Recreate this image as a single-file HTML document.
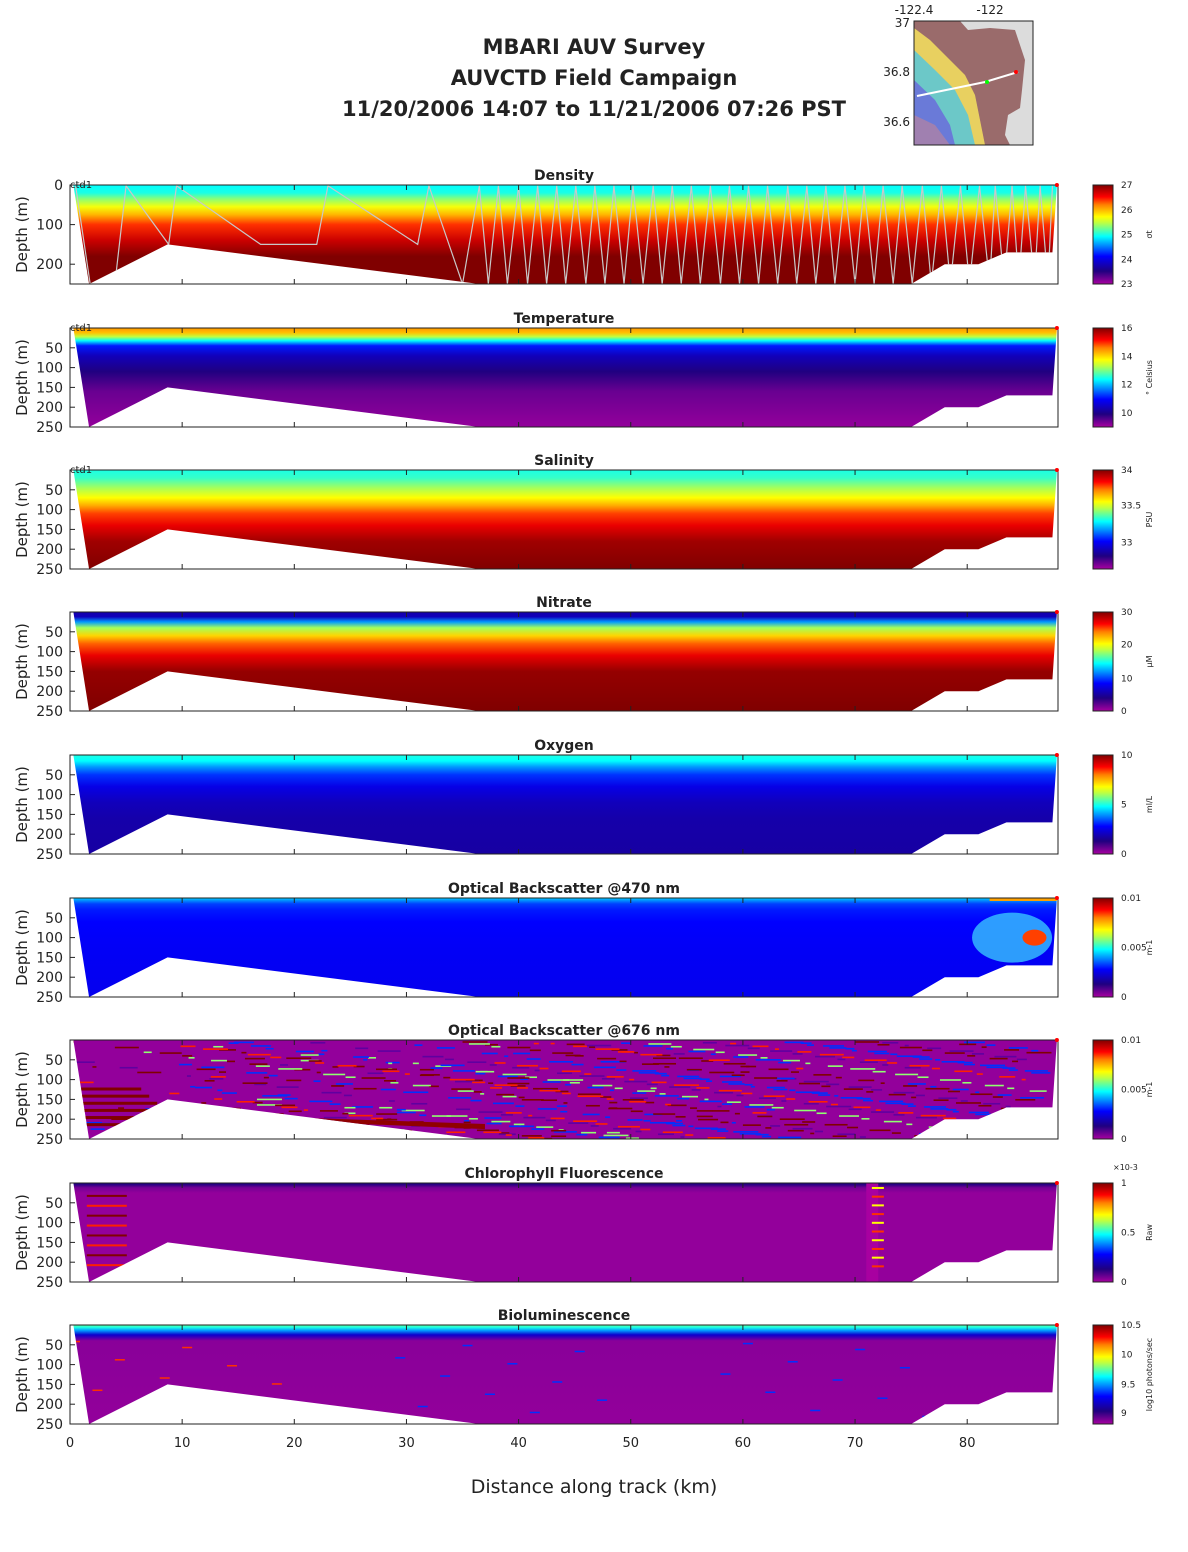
<!DOCTYPE html>
<html><head><meta charset="utf-8">
<style>
body{margin:0;background:#fff;font-family:"DejaVu Sans","Liberation Sans",sans-serif;}
svg text{font-family:"DejaVu Sans","Liberation Sans",sans-serif;fill:#222;}
</style></head>
<body>
<svg id="fig" width="1188" height="1548" viewBox="0 0 1188 1548" xmlns="http://www.w3.org/2000/svg">
<g font-weight="bold" font-size="21" text-anchor="middle">
<text x="594" y="54">MBARI AUV Survey</text>
<text x="594" y="85">AUVCTD Field Campaign</text>
<text x="594" y="116">11/20/2006 14:07  to 11/21/2006 07:26 PST</text>
</g>
<g>
<rect x="914" y="21" width="119" height="124" fill="#dcdcdc"/>
<path d="M914,21 L960,21 L968,30 L990,28 L1015,30 L1025,60 L1022,90 L1020,108 L1008,115 L1005,135 L1010,145 L914,145 Z" fill="#9a6b6b"/>
<path d="M914,28 L930,40 L950,60 L965,75 L975,95 L980,120 L985,145 L914,145 Z" fill="#e8d060"/>
<path d="M914,50 L935,70 L955,90 L968,115 L975,145 L914,145 Z" fill="#6cc8c8"/>
<path d="M914,80 L935,100 L950,125 L955,145 L914,145 Z" fill="#6a7ad8"/>
<path d="M914,115 L935,125 L950,145 L914,145 Z" fill="#a080b0"/>
<polyline points="917,96 985,82 1018,72" fill="none" stroke="#fff" stroke-width="2"/>
<circle cx="987" cy="82" r="2" fill="#0f0"/><circle cx="1016" cy="72" r="2" fill="#f00"/>
<rect x="914" y="21" width="119" height="124" fill="none" stroke="#222"/>
<text x="914" y="14" font-size="12" text-anchor="middle">-122.4</text>
<text x="990" y="14" font-size="12" text-anchor="middle">-122</text>
<text x="910" y="27" font-size="12" text-anchor="end">37</text>
<text x="910" y="76" font-size="12" text-anchor="end">36.8</text>
<text x="910" y="126" font-size="12" text-anchor="end">36.6</text>
</g>
<g id="panels"></g>
<g id="xaxis" font-size="13" text-anchor="middle"></g>
<text x="594" y="1493" font-size="19" text-anchor="middle">Distance along track (km)</text>
</svg>
<script>
// seafloor / data extent profile (km, depth m)
const bottomKm = [0.3, 1.7, 8.7, 36.5, 75, 78, 81, 83.5, 87.6, 88];
const bottomDepth = [0, 250, 150, 250, 250, 200, 200, 170, 170, 0];
const xTicks = [0,10,20,30,40,50,60,70,80];
const panelTitles = ["Density","Temperature","Salinity","Nitrate","Oxygen","Optical Backscatter @470 nm","Optical Backscatter @676 nm","Chlorophyll Fluorescence","Bioluminescence"];
const cbarUnits = ["σt","° Celsius","PSU","μM","ml/L","m-1","m-1","Raw","log10 photons/sec"];
const cbarTicks = [["27","26","25","24","23"],["16","14","12","10"],["34","33.5","33"],["30","20","10","0"],["10","5","0"],["0.01","0.005","0"],["0.01","0.005","0"],["1","0.5","0"],["10.5","10","9.5","9"]];
const cbarTickFrac = [[0,0.25,0.5,0.75,1],[0,0.29,0.57,0.86],[0,0.36,0.73],[0,0.33,0.67,1],[0,0.5,1],[0,0.5,1],[0,0.5,1],[0,0.5,1],[0,0.3,0.6,0.89]];
// vertical profile per panel: depth (m) and normalised value (0..1)
const profDepth = [
 [0,20,35,55,75,100,140,180,250],
 [0,12,22,32,45,70,110,160,250],
 [0,20,45,70,90,110,140,180,250],
 [0,12,25,40,60,80,110,150,250],
 [0,15,30,50,80,120,160,250],
 [0,5,15,30,60,120,250],
 [0,250],
 [0,4,12,25,250],
 [0,6,14,25,40,250]];
const profVal = [
 [0.48,0.5,0.58,0.67,0.75,0.85,0.93,1,1],
 [0.78,0.74,0.62,0.48,0.3,0.2,0.13,0.06,0.02],
 [0.5,0.52,0.6,0.68,0.76,0.84,0.9,0.97,1],
 [0.18,0.2,0.4,0.6,0.72,0.82,0.9,0.98,1],
 [0.5,0.48,0.4,0.32,0.25,0.2,0.18,0.17],
 [0.45,0.4,0.33,0.3,0.28,0.27,0.26],
 [0.02,0.02],
 [0.15,0.12,0.05,0.02,0.02],
 [0.55,0.5,0.4,0.22,0.03,0.02]];
// density vehicle track turning points (km) and depth (m)
const trackKm = [0.5,1.8,4,5,8.8,9.5,17,22,23,31,32,35,36.5,37.3,38.2,39,40,40.8,41.7,42.5,43.4,44.2,45.1,46,46.8,47.7,48.5,49.4,50.2,51.1,52,52.8,53.7,54.5,55.4,56.2,57.1,58,58.8,59.7,60.5,61.4,62.2,63.1,64,64.8,65.7,66.5,67.4,68.2,69.1,70,70.8,71.7,72.5,73.4,74.2,75.1,76,76.8,77.7,78.5,79.4,80.2,81.1,82,82.5,83.3,84,84.6,85.2,86,86.5,87.2,87.6];
const trackDepth = [2,250,250,2,150,2,150,150,2,150,2,250,2,250,2,250,2,250,2,250,2,250,2,250,2,250,2,250,2,250,2,250,2,250,2,250,2,250,2,250,2,250,2,250,2,250,2,250,2,250,2,250,2,250,2,250,2,250,2,250,2,250,2,250,2,250,2,250,2,250,2,250,2,250,2];

const X0=70, PX=11.215, PW=988, PH=99;
const panelTop=[185,328,470,612,755,898,1040,1183,1325];
function xs(km){return X0+km*PX;}
function ys(d,top){return top+d*PH/250;}
const cmapStops=[[0,"#a800a0"],[0.13,"#200080"],[0.28,"#0000ff"],[0.48,"#00ffff"],[0.62,"#c0ff40"],[0.68,"#ffff00"],[0.8,"#ff8000"],[0.88,"#ff0000"],[1,"#800000"]];
function hex(c){return [1,3,5].map(i=>parseInt(c.substr(i,2),16));}
function cmap(t){t=Math.max(0,Math.min(1,t));for(let i=1;i<cmapStops.length;i++){if(t<=cmapStops[i][0]){const a=cmapStops[i-1],b=cmapStops[i];const f=(t-a[0])/(b[0]-a[0]);const ca=hex(a[1]),cb=hex(b[1]);return "rgb("+ca.map((v,k)=>Math.round(v+(cb[k]-v)*f)).join(",")+")";}}return cmapStops[cmapStops.length-1][1];}
const NS="http://www.w3.org/2000/svg";
function mk(tag,attrs,parent){const e=document.createElementNS(NS,tag);for(const k in attrs)e.setAttribute(k,attrs[k]);if(parent)parent.appendChild(e);return e;}
const root=document.getElementById('panels');
const defs=mk('defs',{},root);
panelTop.forEach((top,p)=>{
  const g=mk('g',{},root);
  
  
  const grad=mk('linearGradient',{id:'g'+p,gradientUnits:'userSpaceOnUse',x1:0,y1:top,x2:0,y2:top+PH},defs);
  profDepth[p].forEach((d,i)=>{mk('stop',{offset:d/250,'stop-color':cmap(profVal[p][i])},grad);});
  const cb=mk('linearGradient',{id:'cb'+p,x1:0,y1:1,x2:0,y2:0},defs);
  cmapStops.forEach(s=>mk('stop',{offset:s[0],'stop-color':s[1]},cb));
  let pts=bottomKm.map((k,i)=>xs(k)+","+ys(bottomDepth[i],top)).join(" ");
  const poly=mk('polygon',{points:pts,fill:'url(#g'+p+')'},g);
  
  
  const cp=mk('clipPath',{id:'c'+p},defs);mk('polygon',{points:pts},cp);
  const tex=mk('g',{'clip-path':'url(#c'+p+')'},g);
  if(p==6){
    const cols=["#800000","#ff2000","#0030ff","#90ff70","#6000a0","#800000","#0030ff"];
    for(let j=0;j<700;j++){let km=(j*37%86)+((j*13)%7)/7;if(j%3==0&&km<35)km=km*0.3+(j%20)*3;const d=((j*53)%245)+3;
      if(km<9&&j%4)continue;
      mk('rect',{x:xs(km),y:ys(d,top),width:4+(j*7%22),height:1.6,fill:cols[j%7]},tex);}
    mk('polygon',{points:xs(9)+","+ys(185,top)+" "+xs(37)+","+ys(212,top)+" "+xs(37)+","+ys(225,top)+" "+xs(9)+","+ys(192,top),fill:'#900000'},tex);
    for(let j=0;j<6;j++){mk('rect',{x:xs(1),y:ys(120+j*18,top),width:60+j*8,height:3,fill:'#800000'},tex);}
  }
  if(p==5){
    mk('ellipse',{cx:xs(84),cy:ys(100,top),rx:40,ry:25,fill:'#40e0ff',opacity:0.7},tex);
    mk('ellipse',{cx:xs(86),cy:ys(100,top),rx:12,ry:8,fill:'#ff4000'},tex);
    mk('rect',{x:xs(82),y:ys(0,top),width:70,height:3,fill:'#ffa000'},tex);
  }
  if(p==7){
    mk('rect',{x:xs(71),y:ys(0,top),width:12,height:PH,fill:'#a800a0'},tex);
    for(let j=0;j<10;j++){mk('rect',{x:xs(71.5),y:ys(10+j*22,top),width:12,height:2,fill:j%2?'#ff3000':'#ffff00'},tex);}
    for(let j=0;j<8;j++){mk('rect',{x:xs(1.5),y:ys(30+j*25,top),width:40,height:2,fill:j%2?'#ff2000':'#800000'},tex);}
  }
  if(p==8){
    for(let j=0;j<30;j++){mk('rect',{x:xs((j*29)%85),y:ys(40+(j*41)%200,top),width:10,height:1.5,fill:j%3?'#0030ff':'#ff3000'},tex);}
  }
  if(p==0){
    const line=trackKm.map((k,i)=>xs(k)+","+ys(trackDepth[i],top)).join(" ");
    const l=mk('polyline',{points:line,fill:'none',stroke:'#c8c8c8','stroke-width':1.2},tex);
    
  }
  mk('rect',{x:X0,y:top,width:PW,height:PH,fill:'none',stroke:'#222','stroke-width':1},g);
  mk('circle',{cx:xs(88),cy:top,r:2,fill:'#f00'},g);
  const t=mk('text',{x:564,y:top-5,'font-size':14,'font-weight':'bold','text-anchor':'middle'},g);t.textContent=panelTitles[p];
  
  if(p<3){const c=mk('text',{x:X0,y:top+3,'font-size':10},g);c.textContent='ctd1';}
  const dTicks=p==0?[0,100,200]:[50,100,150,200,250];
  dTicks.forEach(d=>{const yy=ys(d,top);mk('line',{x1:X0,x2:X0+5,y1:yy,y2:yy,stroke:'#222'},g);
    const tt=mk('text',{x:63,y:yy+5,'font-size':14,'text-anchor':'end'},g);tt.textContent=d;});
  xTicks.forEach(k=>{mk('line',{x1:xs(k),x2:xs(k),y1:top+PH,y2:top+PH-5,stroke:'#222'},g);mk('line',{x1:xs(k),x2:xs(k),y1:top,y2:top+5,stroke:'#222'},g);});
  const yl=mk('text',{transform:'translate(27,'+(top+PH/2)+') rotate(-90)','font-size':15,'text-anchor':'middle'},g);yl.textContent='Depth (m)';
  
  const cg=mk('g',{},g);
  mk('rect',{x:1093,y:top,width:20,height:PH,fill:'url(#cb'+p+')',stroke:'#222'},cg);
  cbarTicks[p].forEach((lab,i)=>{const yy=top+cbarTickFrac[p][i]*PH;const tt=mk('text',{x:1121,y:yy+3,'font-size':9},cg);tt.textContent=lab;});
  const ul=mk('text',{transform:'translate(1152,'+(top+PH/2)+') rotate(-90)','font-size':8,'text-anchor':'middle'},cg);ul.textContent=cbarUnits[p];
  if(p==7){const e=mk('text',{x:1113,y:top-13,'font-size':8},cg);e.textContent='×10-3';}
});
const xa=document.getElementById('xaxis');
xTicks.forEach(k=>{const t=mk('text',{x:xs(k),y:1447},xa);t.textContent=k;});
</script>
</body></html>
